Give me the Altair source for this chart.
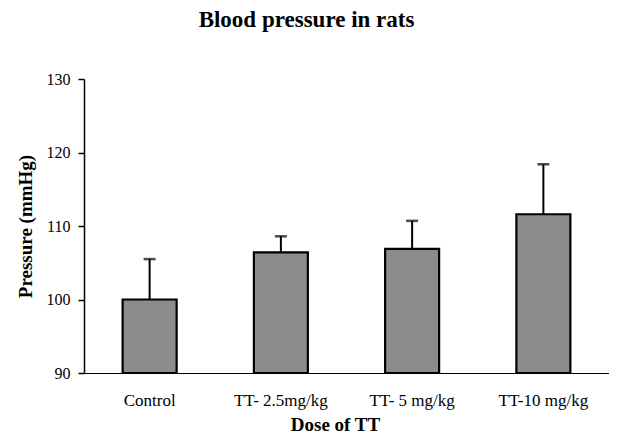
import altair as alt
import pandas as pd

categories = ["Control", "TT- 2.5mg/kg", "TT- 5 mg/kg", "TT-10 mg/kg"]
means = [100.0, 106.4, 106.9, 111.6]
errors = [5.5, 2.2, 3.8, 6.8]
baseline = 90

df = pd.DataFrame({
    "dose": categories,
    "mean": means,
    "top": [m + e for m, e in zip(means, errors)],
    "base": [baseline] * len(categories),
})

FONT = "Liberation Serif"

x = alt.X("dose:N", sort=categories, title="Dose of  TT",
          scale=alt.Scale(paddingInner=0, paddingOuter=0),
          axis=alt.Axis(labelAngle=0, ticks=False, labelFontSize=17, labelPadding=19,
                        titleFontSize=19, titleFontWeight="bold", titlePadding=7,
                        titleX=251, domainColor="black", domainWidth=1.2,
                        labelColor="black", titleColor="black", labelFont=FONT, titleFont=FONT))
yscale = alt.Scale(domain=[90, 130], nice=False, zero=False)

bars = alt.Chart(df).mark_bar(size=54, color="#8c8c8c", stroke="black", strokeWidth=2.2).encode(
    x=x,
    y=alt.Y("mean:Q", scale=yscale, title="Pressure (mmHg)",
            axis=alt.Axis(values=[90, 100, 110, 120, 130], grid=False, tickSize=6,
                          tickColor="black", tickWidth=1.5, domainColor="black", domainWidth=1.5,
                          labelFontSize=16, labelPadding=8, labelColor="black",
                          titleFontSize=19, titleFontWeight="bold", titleColor="black",
                          titlePadding=11, labelFont=FONT, titleFont=FONT)),
    y2="base:Q",
)

rules = alt.Chart(df).mark_rule(color="black", strokeWidth=2).encode(
    x=alt.X("dose:N", sort=categories),
    y=alt.Y("mean:Q", scale=yscale),
    y2="top:Q",
)

caps = alt.Chart(df).mark_tick(color="black", thickness=2.5, size=12).encode(
    x=alt.X("dose:N", sort=categories),
    y=alt.Y("top:Q", scale=yscale),
)

chart = alt.layer(bars, rules, caps).properties(
    width=525, height=294,
    title=alt.TitleParams("Blood pressure in rats", font=FONT, fontSize=23, fontWeight="bold",
                          color="black", offset=39, dx=-40, anchor="middle"),
    padding={"left": 76, "top": 71, "right": 0, "bottom": 62},
    autosize=alt.AutoSizeParams(type="none"),
    background="white",
).configure_view(stroke=None)

chart.save("out.html", embed_options={"renderer": "svg", "actions": False})
